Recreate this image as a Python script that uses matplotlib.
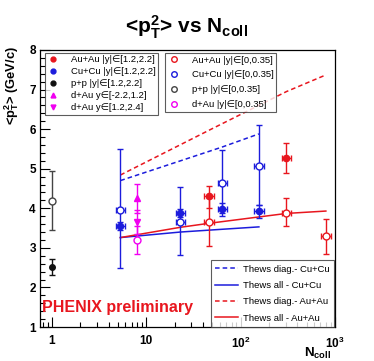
import matplotlib
matplotlib.use("Agg")
import matplotlib.pyplot as plt
from matplotlib.lines import Line2D
from matplotlib.ticker import MultipleLocator, FixedLocator, FixedFormatter, NullFormatter, LogLocator
import numpy as np

plt.rcParams['font.family'] = ['Liberation Sans', 'DejaVu Sans']
plt.rcParams['mathtext.fontset'] = 'custom'
plt.rcParams['mathtext.rm'] = 'Liberation Sans'
plt.rcParams['mathtext.it'] = 'Liberation Sans:italic'
plt.rcParams['mathtext.bf'] = 'Liberation Sans:bold'

# --- data ---
# forward rapidity, filled markers
auau_fwd_n = [46, 306]
auau_fwd = [4.30, 5.27]
auau_fwd_lo = [0.30, 0.38]
auau_fwd_hi = [0.27, 0.39]

cucu_fwd_n = [5.3, 23, 64, 156]
cucu_fwd = [3.56, 3.88, 3.98, 3.92]
cucu_fwd_lo = [0.10, 0.10, 0.10, 0.17]
cucu_fwd_hi = [0.10, 0.10, 0.15, 0.17]

pp_fwd_n = [1.0]
pp_fwd = [2.51]
pp_fwd_lo = [0.19]
pp_fwd_hi = [0.22]

dau_bwd_n = [8.0]          # y in [-2.2,1.2], up triangle
dau_bwd = [4.25]
dau_bwd_err = [0.36]
dau_fwd_n = [8.0]          # y in [1.2,2.4], down triangle
dau_fwd = [3.66]
dau_fwd_err = [0.30]

# mid rapidity, open markers
auau_mid_n = [46, 306, 800]
auau_mid = [3.66, 3.89, 3.29]
auau_mid_lo = [0.61, 0.35, 0.44]
auau_mid_hi = [0.61, 0.36, 0.43]

cucu_mid_n = [5.3, 23, 64, 156]
cucu_mid = [3.96, 3.66, 4.63, 5.08]
cucu_mid_lo = [1.47, 0.84, 0.83, 0.99]
cucu_mid_hi = [1.54, 0.87, 0.84, 1.02]

pp_mid_n = [1.0]
pp_mid = [4.19]
pp_mid_lo = [0.75]
pp_mid_hi = [0.76]

dau_mid_n = [8.0]
dau_mid = [3.20]
dau_mid_err = [0.36]

ncoll_rel_err = 0.12

# Thews model curves
thews_diag_cu_n = [5.3, 23, 64, 156]
thews_diag_cu = [4.70, 5.20, 5.55, 5.88]
thews_all_cu_n = [5.3, 23, 64, 156]
thews_all_cu = [3.26, 3.40, 3.47, 3.53]
thews_diag_au_n = [5.3, 46, 306, 800]
thews_diag_au = [4.84, 5.97, 6.95, 7.37]
thews_all_au_n = [5.3, 23, 46, 306, 800]
thews_all_au = [3.26, 3.52, 3.62, 3.87, 3.93]

RED = '#e8161e'
BLUE = '#1c1cdc'
MAG = '#f000f0'
BLK = '#111111'

fig = plt.figure(figsize=(3.74, 3.61), dpi=100)
ax = fig.add_axes([40 / 374, 1 - 327 / 361, 295 / 374, 277 / 361])
ax.set_xscale('log')
ax.set_xlim(0.745, 1000)
ax.set_ylim(1, 8)


def xe(n):
    n = np.asarray(n, dtype=float)
    return [n - n / (1 + ncoll_rel_err), n * ncoll_rel_err]


# model lines
l_dcu, = ax.plot(thews_diag_cu_n, thews_diag_cu, ls=(0, (3, 2)), color=BLUE, lw=1.1)
l_acu, = ax.plot(thews_all_cu_n, thews_all_cu, ls='-', color=BLUE, lw=1.1)
l_dau, = ax.plot(thews_diag_au_n, thews_diag_au, ls=(0, (3, 2)), color=RED, lw=1.1)
l_aau, = ax.plot(thews_all_au_n, thews_all_au, ls='-', color=RED, lw=1.1)

eb = dict(capsize=2, elinewidth=1.0, capthick=1.0, ls='none', zorder=3)

# open (mid rapidity)
ax.errorbar(cucu_mid_n, cucu_mid, yerr=[cucu_mid_lo, cucu_mid_hi], xerr=xe(cucu_mid_n),
            fmt='o', ms=5, mfc='white', mec=BLUE, ecolor=BLUE, mew=1, **eb)
ax.errorbar(auau_mid_n, auau_mid, yerr=[auau_mid_lo, auau_mid_hi], xerr=xe(auau_mid_n),
            fmt='o', ms=5, mfc='white', mec=RED, ecolor=RED, mew=1, **eb)
ax.errorbar(pp_mid_n, pp_mid, yerr=[pp_mid_lo, pp_mid_hi],
            fmt='o', ms=5, mfc='white', mec='#444444', ecolor='#444444', mew=1, **eb)
ax.errorbar(dau_mid_n, dau_mid, yerr=dau_mid_err,
            fmt='o', ms=5, mfc='white', mec=MAG, ecolor=MAG, mew=1, **eb)

# filled (forward rapidity)
ax.errorbar(cucu_fwd_n, cucu_fwd, yerr=[cucu_fwd_lo, cucu_fwd_hi], xerr=xe(cucu_fwd_n),
            fmt='o', ms=4.5, color=BLUE, **eb)
ax.errorbar(auau_fwd_n, auau_fwd, yerr=[auau_fwd_lo, auau_fwd_hi], xerr=xe(auau_fwd_n),
            fmt='o', ms=4.5, color=RED, **eb)
ax.errorbar(pp_fwd_n, pp_fwd, yerr=[pp_fwd_lo, pp_fwd_hi],
            fmt='o', ms=4, color=BLK, **eb)
ax.errorbar(dau_bwd_n, dau_bwd, yerr=dau_bwd_err, fmt='^', ms=4, color=MAG, **eb)
ax.errorbar(dau_fwd_n, dau_fwd, yerr=dau_fwd_err, fmt='v', ms=4, color=MAG, **eb)

# axes styling (ROOT-like)
for s in ax.spines.values():
    s.set_linewidth(0.9)
ax.yaxis.set_major_locator(MultipleLocator(1))
ax.yaxis.set_minor_locator(MultipleLocator(0.2))
ax.xaxis.set_major_locator(FixedLocator([1, 10, 100, 1000]))
ax.xaxis.set_major_formatter(FixedFormatter(['1', '10', r'$\mathbf{10^2}$', r'$\mathbf{10^3}$']))
ax.xaxis.set_minor_locator(LogLocator(base=10, subs=np.arange(2, 10)))
ax.xaxis.set_minor_formatter(NullFormatter())
ax.tick_params(which='both', direction='in', top=False, right=False, labelsize=8.5)
ax.tick_params(which='major', length=7, width=0.8)
ax.tick_params(which='minor', length=3.5, width=0.8)
ax.tick_params(axis='x', pad=6)
ax.tick_params(axis='y', pad=3)
for lab in ax.get_xticklabels() + ax.get_yticklabels():
    lab.set_fontweight('bold')

# legends
fs = 6.8
box = dict(fontsize=fs, frameon=True, fancybox=False, edgecolor='#333333', borderaxespad=0)
h1 = [Line2D([], [], ls='none', marker='o', ms=3.5, color=RED),
      Line2D([], [], ls='none', marker='o', ms=3.5, color=BLUE),
      Line2D([], [], ls='none', marker='o', ms=3.5, color=BLK),
      Line2D([], [], ls='none', marker='^', ms=3.5, color=MAG),
      Line2D([], [], ls='none', marker='v', ms=3.5, color=MAG)]
t1 = ['Au+Au |y|∈[1.2,2.2]', 'Cu+Cu |y|∈[1.2,2.2]', 'p+p |y|∈[1.2,2.2]',
      'd+Au y∈[-2.2,1.2]', 'd+Au y∈[1.2,2.4]']
leg1 = ax.legend(h1, t1, loc='upper left', bbox_to_anchor=(0.017, 0.99),
                 labelspacing=0.32, handlelength=1.2, handletextpad=1.3, borderpad=0.25, **box)
leg1.get_frame().set_linewidth(0.8)
ax.add_artist(leg1)

h2 = [Line2D([], [], ls='none', marker='o', ms=4, mfc='white', mec=c, mew=1)
      for c in (RED, BLUE, '#444444', MAG)]
t2 = ['Au+Au |y|∈[0,0.35]', 'Cu+Cu |y|∈[0,0.35]', 'p+p |y|∈[0,0.35]', 'd+Au |y|∈[0,0.35]']
leg2 = ax.legend(h2, t2, loc='upper left', bbox_to_anchor=(0.424, 0.99),
                 labelspacing=0.62, handlelength=1.2, handletextpad=1.3, borderpad=0.3, **box)
leg2.get_frame().set_linewidth(0.8)
ax.add_artist(leg2)

leg3 = ax.legend([l_dcu, l_acu, l_dau, l_aau],
                 ['Thews diag.- Cu+Cu', 'Thews all - Cu+Cu', 'Thews diag.- Au+Au', 'Thews all - Au+Au'],
                 loc='lower right', bbox_to_anchor=(0.997, 0.0),
                 labelspacing=0.78, handlelength=2.4, handletextpad=0.6, borderpad=0.45, **box)
leg3.get_frame().set_linewidth(0.8)

ax.text(0.008, 0.072, 'PHENIX preliminary', transform=ax.transAxes, color=RED,
        fontsize=11.5, fontweight='bold', ha='left', va='center')

fig.text(0.5, 0.925, r'<p$_{\mathbf{T}}^{\mathbf{2}}$> vs N$_{\mathbf{coll}}$', ha='center', va='center',
         fontsize=15, fontweight='bold')
fig.text(12 / 374, 1 - 46 / 361, r'<p$_{\mathbf{T}}^{\mathbf{2}}$> (GeV/c)', rotation=90,
         ha='center', va='top', fontsize=9.3, fontweight='bold')
ax.text(0.985, -0.068, r'N$_{\mathbf{coll}}$', transform=ax.transAxes, ha='right', va='top',
        fontsize=9.5, fontweight='bold')

fig.savefig('out.png', dpi=100)
